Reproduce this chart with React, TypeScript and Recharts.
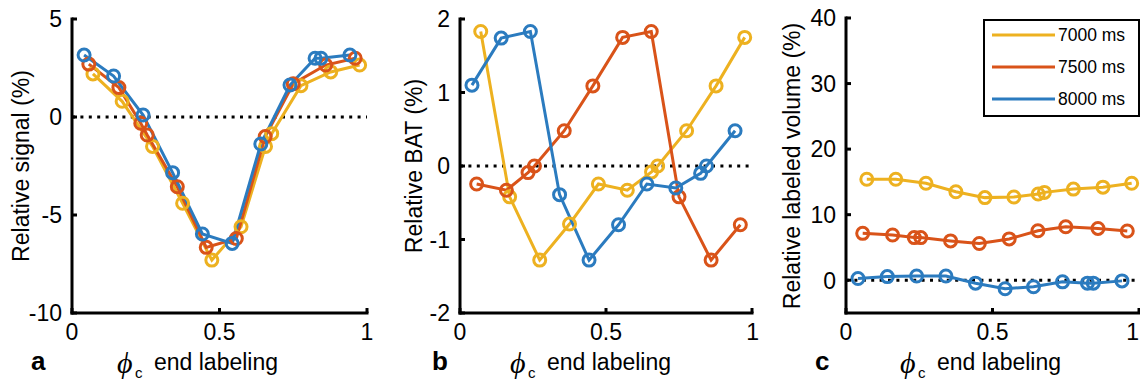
import React from 'react';
import { LineChart, Line, XAxis, YAxis, ReferenceLine } from 'recharts';

// ---- series ----
const seriesNames = ['7000 ms', '7500 ms', '8000 ms'];
const seriesColors = ['#EDB120', '#D95319', '#2B7BBF'];

// phi_c end labeling positions for each series
const phi7000 = [0.071, 0.17, 0.273, 0.375, 0.474, 0.573, 0.656, 0.677, 0.776, 0.877, 0.975];
const phi7500 = [0.057, 0.159, 0.233, 0.255, 0.357, 0.455, 0.557, 0.655, 0.75, 0.86, 0.96];
const phi8000 = [0.041, 0.141, 0.241, 0.341, 0.442, 0.543, 0.64, 0.739, 0.824, 0.844, 0.942];

// panel a: relative signal (%)
const signal7000 = [2.2, 0.8, -1.5, -4.4, -7.3, -5.6, -1.5, -0.85, 1.6, 2.3, 2.65];
const signal7500 = [2.7, 1.5, -0.32, -0.92, -3.56, -6.65, -6.2, -1.0, 1.7, 2.65, 3.0];
const signal8000 = [3.16, 2.09, 0.1, -2.84, -5.97, -6.45, -1.38, 1.63, 3.0, 3.0, 3.16];

// panel b: relative BAT (%)
const bat7000 = [1.83, -0.42, -1.28, -0.79, -0.245, -0.33, -0.08, 0.0, 0.48, 1.09, 1.75];
const bat7500 = [-0.245, -0.33, -0.09, 0.0, 0.48, 1.09, 1.75, 1.83, -0.42, -1.28, -0.8];
const bat8000 = [1.1, 1.74, 1.83, -0.39, -1.28, -0.8, -0.245, -0.3, -0.1, 0.0, 0.48];

// panel c: relative labeled volume (%)
const volume7000 = [15.4, 15.4, 14.8, 13.5, 12.6, 12.7, 13.15, 13.4, 13.9, 14.2, 14.8];
const volume7500 = [7.15, 6.9, 6.5, 6.5, 6.0, 5.6, 6.3, 7.55, 8.15, 7.9, 7.5];
const volume8000 = [0.26, 0.55, 0.65, 0.65, -0.45, -1.3, -1.0, -0.25, -0.45, -0.45, -0.1];

// ---- ticks ----
const xTicks = [0, 0.5, 1];
const signalTicks = [-10, -5, 0, 5];
const batTicks = [-2, -1, 0, 1, 2];
const volumeTicks = [0, 10, 20, 30, 40];

const signalDomain = [-10, 5];
const batDomain = [-2, 2];
const volumeDomain = [-5, 40];

const FONT = '"Liberation Sans", Arial, Helvetica, sans-serif';
const TICK_FS = 23;

const toPoints = (xs: number[], ys: number[]) => xs.map((x, i) => ({ x, y: ys[i] }));

function YTick(props: any) {
  const { x, y, payload } = props;
  return (
    <g>
      <line x1={x} x2={x + 5} y1={y} y2={y} stroke="#000" strokeWidth={3} />
      <text x={x - 10} y={y} dy="0.36em" textAnchor="end" fontSize={TICK_FS} fontFamily={FONT} fill="#000">
        {payload.value}
      </text>
    </g>
  );
}

function XTick(props: any) {
  const { x, y, payload, maxX } = props;
  const nearEdge = maxX !== undefined && x + 8 > maxX;
  return (
    <g>
      <line x1={x} x2={x} y1={y} y2={y - 5} stroke="#000" strokeWidth={3} />
      <text
        x={nearEdge ? maxX : x}
        y={y + 27}
        textAnchor={nearEdge ? 'end' : 'middle'}
        fontSize={TICK_FS}
        fontFamily={FONT}
        fill="#000"
      >
        {payload.value}
      </text>
    </g>
  );
}

type PanelProps = {
  left: number;
  width: number;
  margin: { top: number; right: number; bottom: number; left: number };
  domain: number[];
  ticks: number[];
  series: { x: number; y: number }[][];
};

function Panel({ left, width, margin, domain, ticks, series }: PanelProps) {
  return (
    <div style={{ position: 'absolute', left, top: 0 }}>
      <LineChart width={width} height={385} margin={margin}>
        <XAxis
          type="number"
          dataKey="x"
          domain={[0, 1]}
          ticks={xTicks}
          interval={0}
          height={1}
          tickSize={0}
          tickMargin={0}
          tickLine={false}
          tick={<XTick maxX={width - 1} />}
          axisLine={{ stroke: '#000', strokeWidth: 3, strokeLinecap: 'square' }}
        />
        <YAxis
          type="number"
          dataKey="y"
          domain={domain}
          ticks={ticks}
          interval={0}
          width={1}
          tickSize={0}
          tickMargin={0}
          tickLine={false}
          tick={<YTick />}
          axisLine={{ stroke: '#000', strokeWidth: 3, strokeLinecap: 'square' }}
        />
        <ReferenceLine y={0} stroke="#000" strokeWidth={3} strokeDasharray="3 5.4" />
        {series.map((data, i) => (
          <Line
            key={seriesNames[i]}
            data={data}
            dataKey="y"
            name={seriesNames[i]}
            type="linear"
            stroke={seriesColors[i]}
            strokeWidth={3}
            dot={{ r: 6, stroke: seriesColors[i], strokeWidth: 3, fill: 'none' }}
            activeDot={false}
            isAnimationActive={false}
          />
        ))}
      </LineChart>
    </div>
  );
}

function XLabel({ x, letter, letterX }: { x: number; letter: string; letterX: number }) {
  return (
    <g>
      <text x={letterX} y={370} fontSize={26} fontWeight="bold" fontFamily={FONT} fill="#000">
        {letter}
      </text>
      <text x={x} y={373} fontSize={30} fontStyle="italic" fontFamily='"Liberation Serif", "DejaVu Serif", serif' fill="#000">
        ϕ
      </text>
      <text x={x + 18} y={378} fontSize={15} fontFamily={FONT} fill="#000">
        c
      </text>
      <text x={x + 37} y={370} fontSize={23} fontFamily={FONT} fill="#000">
        end labeling
      </text>
    </g>
  );
}

function YLabel({ cx, text }: { cx: number; text: string }) {
  return (
    <text
      transform={`translate(${cx},166) rotate(-90)`}
      textAnchor="middle"
      dy="0.36em"
      fontSize={23}
      fontFamily={FONT}
      fill="#000"
    >
      {text}
    </text>
  );
}

export default function App() {
  const panelA = [toPoints(phi7000, signal7000), toPoints(phi7500, signal7500), toPoints(phi8000, signal8000)];
  const panelB = [toPoints(phi7000, bat7000), toPoints(phi7500, bat7500), toPoints(phi8000, bat8000)];
  const panelC = [toPoints(phi7000, volume7000), toPoints(phi7500, volume7500), toPoints(phi8000, volume8000)];

  return (
    <div style={{ position: 'absolute', left: 0, top: 0, width: 1140, height: 385, background: '#fff', overflow: 'hidden' }}>
      <Panel left={0} width={380} margin={{ top: 19, right: 13, bottom: 71, left: 71 }} domain={signalDomain} ticks={signalTicks} series={panelA} />
      <Panel left={380} width={380} margin={{ top: 19, right: 8, bottom: 71, left: 79 }} domain={batDomain} ticks={batTicks} series={panelB} />
      <Panel left={760} width={380} margin={{ top: 18, right: 1, bottom: 71, left: 85 }} domain={volumeDomain} ticks={volumeTicks} series={panelC} />
      <svg width={1140} height={385} style={{ position: 'absolute', left: 0, top: 0, pointerEvents: 'none' }}>
        <YLabel cx={21} text="Relative signal (%)" />
        <YLabel cx={414} text="Relative BAT (%)" />
        <YLabel cx={792} text="Relative labeled volume (%)" />
        <XLabel x={117} letter="a" letterX={31} />
        <XLabel x={510} letter="b" letterX={432} />
        <XLabel x={900} letter="c" letterX={815} />
        <g>
          <rect x={984} y={20} width={155} height={96} fill="#fff" stroke="#000" strokeWidth={2} />
          {seriesNames.map((name, i) => (
            <g key={name}>
              <line x1={992} x2={1055} y1={35 + i * 32} y2={35 + i * 32} stroke={seriesColors[i]} strokeWidth={3} />
              <text x={1058} y={35 + i * 32} dy="0.36em" fontSize={17.5} fontFamily={FONT} fill="#000">
                {name}
              </text>
            </g>
          ))}
        </g>
      </svg>
    </div>
  );
}
